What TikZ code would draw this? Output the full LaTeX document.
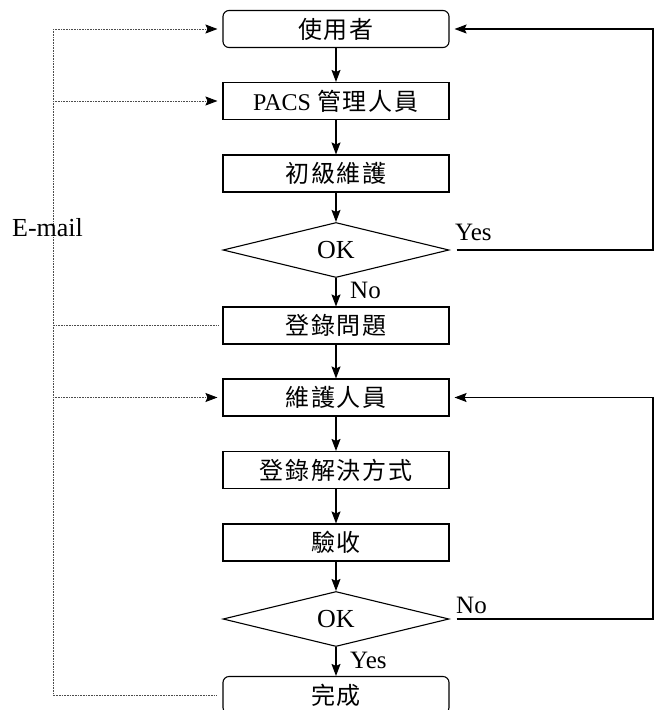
\documentclass[tikz,border=0pt]{standalone}
\usepackage{fontspec}
\setmainfont{Liberation Serif}
\newfontfamily\cjk[LetterSpace=8]{Noto Sans CJK TC}
\usetikzlibrary{shapes.geometric,arrows.meta}
\begin{document}
\begin{tikzpicture}[x=1pt,y=-1pt,
  box/.style={draw,line width=1.1pt,minimum width=226pt,minimum height=37pt,inner sep=0pt,font=\fontsize{24}{28}\selectfont},
  rbox/.style={box,rounded corners=6pt},
  dec/.style={draw,shape=diamond,line width=1.1pt,minimum width=226pt,minimum height=44pt,inner sep=0pt,font=\fontsize{26}{30}\selectfont},
  tip/.style={-{Stealth[length=12pt,width=9pt,inset=2pt]}},
  flow/.style={line width=1.1pt,tip},
  mail/.style={line width=0.9pt,gray!60!black,dash pattern=on 0.8pt off 0.8pt},
  mailarrow/.style={mail,-{Stealth[length=12pt,width=9pt,inset=2pt,color=black]}},
  lbl/.style={font=\fontsize{25}{30}\selectfont,inner sep=0pt,anchor=base west}
]
\useasboundingbox (0,0) rectangle (656,710);
\clip (0,0) rectangle (656,710);
\fill[white] (0,0) rectangle (656,710);

\node[rbox] (u) at (336,29) {\cjk 使用者};
\node[box] (pacs) at (336,101) {PACS \cjk 管理人員};
\node[box] (init) at (336,173.5) {\cjk 初級維護};
\node[dec] (d1) at (336,250) {OK};
\node[box] (log) at (336,325.5) {\cjk 登錄問題};
\node[box] (staff) at (336,397.5) {\cjk 維護人員};
\node[box] (sol) at (336,470) {\cjk 登錄解決方式};
\node[box] (acc) at (336,542.5) {\cjk 驗收};
\node[dec] (d2) at (336,619) {OK};
\node[rbox] (done) at (336,695) {\cjk 完成};

\coordinate (eTop) at (53,29);
\coordinate (eBot) at (53,695);
\coordinate (rX) at (653,0);

% main flow
\draw[flow] (u) -- (pacs);
\draw[flow] (pacs) -- (init);
\draw[flow] (init) -- (d1);
\draw[flow] (d1) -- (log);
\draw[flow] (log) -- (staff);
\draw[flow] (staff) -- (sol);
\draw[flow] (sol) -- (acc);
\draw[flow] (acc) -- (d2);
\draw[flow] (d2) -- (done);

% feedback loops
\draw[flow,shorten <=7pt,shorten >=5pt] (d1.east) -- (d1.east -| rX) -- (u.east -| rX) -- (u.east);
\draw[flow,shorten <=7pt,shorten >=5pt] (d2.east) -- (d2.east -| rX) -- (staff.east -| rX) -- (staff.east);

% e-mail lines
\draw[mail] (eTop) -- (eBot);
\draw[mailarrow,shorten >=5pt] (eTop) -- (u.west);
\draw[mailarrow,shorten >=5pt] (pacs.west -| eTop) -- (pacs.west);
\draw[mail,shorten <=4pt] (log.west) -- (log.west -| eTop);
\draw[mailarrow,shorten >=5pt] (staff.west -| eTop) -- (staff.west);
\draw[mail,shorten <=6pt] (done.west) -- (eBot);

% labels
\node[font=\fontsize{26}{30}\selectfont,inner sep=0pt,anchor=base] (email) at (47.5,236) {E-mail};
\node[lbl] (yes1) at (455,240) {Yes};
\node[lbl] (no1) at (350,298) {No};
\node[lbl] (no2) at (456,613) {No};
\node[lbl] (yes2) at (350,668) {Yes};
\end{tikzpicture}
\end{document}
